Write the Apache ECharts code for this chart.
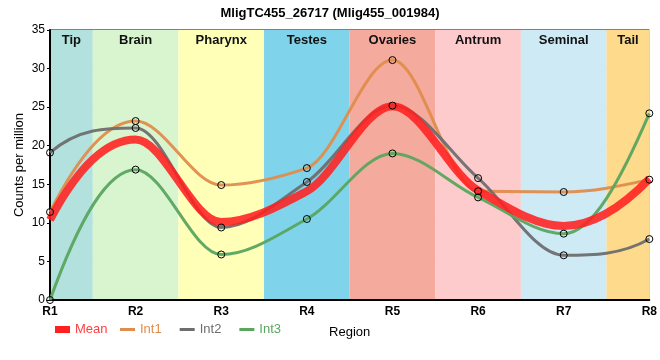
<!DOCTYPE html>
<html><head><meta charset="utf-8">
<script src="https://cdn.jsdelivr.net/npm/echarts@6/dist/echarts.min.js"></script>
<style>html,body{margin:0;padding:0;background:#fff}#c{width:660px;height:360px}</style>
</head><body><div id="c"></div>
<script>
var categories = ['R1','R2','R3','R4','R5','R6','R7','R8'];
var meanVals = [10.4, 20.8, 10.1, 14.1, 25.1, 14.2, 9.6, 15.7];
var int1Vals = [11.4, 23.2, 14.9, 17.1, 31.1, 14.1, 14.0, 15.6];
var int2Vals = [19.1, 22.3, 9.4, 15.3, 25.2, 15.8, 5.8, 7.9];
var int3Vals = [0.0, 16.9, 5.9, 10.5, 19.0, 13.3, 8.6, 24.2];
var regionNames = ['Tip','Brain','Pharynx','Testes','Ovaries','Antrum','Seminal','Tail'];
var regionStart = [1, 1.5, 2.5, 3.5, 4.5, 5.5, 6.5, 7.5];
var regionEnd = [1.5, 2.5, 3.5, 4.5, 5.5, 6.5, 7.5, 8];
var regionColors = ['#b3e2de','#d8f5d0','#ffffb8','#7fd4ec','#f4aa9c','#fdcbcb','#cdeaf5','#fdda8c'];
var yTicks = [0,5,10,15,20,25,30,35];

var COL = {Mean:'#ff2020', Int1:'#e08c4c', Int2:'#6e6e6e', Int3:'#5aa55f'};
var FONT = 'Liberation Sans, Arial, sans-serif';

function pts(vals){ return vals.map(function(v,i){ return [i+1, v]; }); }
function sgn(v){ return v>0?1:v<0?-1:0; }

// shape-preserving piecewise cubic (PCHIP) path through the axis-mapped points
function pchipPath(p){
  var n = p.length, h = [], del = [], d = new Array(n);
  for (var i=0;i<n-1;i++){ h.push(p[i+1][0]-p[i][0]); del.push((p[i+1][1]-p[i][1])/h[i]); }
  for (var k=1;k<n-1;k++){
    if (del[k-1]*del[k] <= 0) d[k] = 0;
    else {
      var w1 = 2*h[k]+h[k-1], w2 = h[k]+2*h[k-1];
      d[k] = (w1+w2)/(w1/del[k-1] + w2/del[k]);
    }
  }
  function edge(h0,h1,m0,m1){
    var dd = ((2*h0+h1)*m0 - h0*m1)/(h0+h1);
    if (sgn(dd) !== sgn(m0)) dd = 0;
    else if (sgn(m0) !== sgn(m1) && Math.abs(dd) > Math.abs(3*m0)) dd = 3*m0;
    return dd;
  }
  d[0] = edge(h[0], h[1], del[0], del[1]);
  d[n-1] = edge(h[n-2], h[n-3], del[n-2], del[n-3]);
  var s = 'M' + p[0][0] + ',' + p[0][1];
  for (var i=0;i<n-1;i++){
    var dx = h[i]/3;
    s += 'C' + (p[i][0]+dx) + ',' + (p[i][1]+dx*d[i]) + ',' + (p[i+1][0]-dx) + ',' + (p[i+1][1]-dx*d[i+1]) + ',' + p[i+1][0] + ',' + p[i+1][1];
  }
  return s;
}

function curveSeries(name, vals, width, opacity, z){
  return {name:name, type:'custom', data:pts(vals), z:z, silent:true, color:COL[name],
    renderItem:function(params, api){
      if (params.dataIndex !== 0) return null;
      var p = vals.map(function(v,i){ return api.coord([i+1, v]); });
      return {type:'path', shape:{pathData: pchipPath(p)},
        style:{fill:null, stroke:COL[name], lineWidth:width, opacity:opacity, lineJoin:'round', lineCap:'butt'}};
    }};
}

function symbolSeries(name, vals){
  return {name:name, type:'line', data:pts(vals), symbol:'circle', symbolSize:7, showSymbol:true,
    lineStyle:{width:0, opacity:0}, color:COL[name],
    itemStyle:{color:'rgba(0,0,0,0)', borderColor:'#000', borderWidth:1}, z:6};
}

var areas = regionNames.map(function(n,i){
  return [{name:n, xAxis: regionStart[i], itemStyle:{color: regionColors[i]}}, {xAxis: regionEnd[i]}];
});

var chart = echarts.init(document.getElementById('c'));
chart.setOption({
  animation:false,
  title:{text:'MligTC455_26717 (Mlig455_001984)', left:'center', top:2,
    textStyle:{fontSize:13, fontWeight:'bold', color:'#000', fontFamily:FONT}},
  grid:{left:50, right:10, top:30, bottom:60, show:true, borderColor:'#000', borderWidth:1},
  legend:[{
    left:55, top:323, padding:0, itemWidth:15, itemHeight:7, icon:'rect', itemGap:18,
    data:[{name:'Mean', itemStyle:{color:COL.Mean, borderWidth:0}, textStyle:{color:'#ff4040'}}],
    textStyle:{fontSize:13, fontFamily:FONT}
  },{
    left:120, top:323, padding:0, itemWidth:15, itemHeight:3, icon:'rect', itemGap:18,
    data:[
      {name:'Int1', itemStyle:{color:COL.Int1, borderWidth:0}, textStyle:{color:COL.Int1}},
      {name:'Int2', itemStyle:{color:COL.Int2, borderWidth:0}, textStyle:{color:COL.Int2}},
      {name:'Int3', itemStyle:{color:COL.Int3, borderWidth:0}, textStyle:{color:COL.Int3}}],
    textStyle:{fontSize:13, fontFamily:FONT}
  }],
  xAxis:{type:'value', min:1, max:8, interval:1,
    name:'Region', nameLocation:'middle', nameGap:26,
    nameTextStyle:{color:'#000', fontSize:13, fontFamily:FONT},
    axisLine:{lineStyle:{color:'#000', width:2}},
    axisTick:{show:false},
    axisLabel:{color:'#000', fontSize:12, fontWeight:'bold', margin:6, fontFamily:FONT,
      formatter:function(v){ return categories[Math.round(v)-1] || ''; }},
    splitLine:{show:true, lineStyle:{color:'#cccccc'}}
  },
  yAxis:{type:'value', min:yTicks[0], max:yTicks[yTicks.length-1], interval:5,
    name:'Counts per million', nameLocation:'middle', nameGap:24, nameMoveOverlap:false,
    nameTextStyle:{color:'#000', fontSize:13, fontFamily:FONT},
    axisLine:{show:true, lineStyle:{color:'#000', width:2}},
    axisTick:{show:true, length:3, lineStyle:{color:'#000'}},
    axisLabel:{color:'#000', fontSize:12, margin:5, fontFamily:FONT},
    splitLine:{show:true, lineStyle:{color:'#cccccc'}}
  },
  series:[
    {name:'Bands', type:'line', data:[], silent:true, z:0,
      markArea:{silent:true, z:0,
        label:{show:true, position:'insideTop', distance:4, color:'#111', fontSize:13, fontWeight:'bold', fontFamily:FONT},
        data:areas}},
    symbolSeries('Int1', int1Vals),
    symbolSeries('Int2', int2Vals),
    symbolSeries('Int3', int3Vals),
    {name:'Mean', type:'line', data:pts(meanVals), symbol:'none', lineStyle:{width:0, opacity:0}, color:COL.Mean, z:1},
    curveSeries('Int1', int1Vals, 3, 0.95, 3),
    curveSeries('Int2', int2Vals, 3, 0.95, 3),
    curveSeries('Int3', int3Vals, 3, 0.95, 3),
    curveSeries('Mean', meanVals, 8, 0.88, 4)
  ]
});
</script></body></html>
